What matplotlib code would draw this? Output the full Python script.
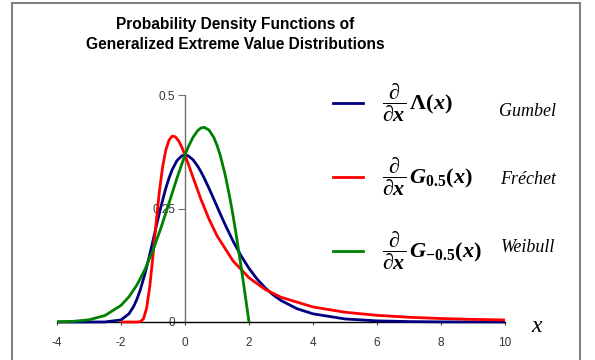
import matplotlib
matplotlib.use("Agg")
import matplotlib.pyplot as plt
from matplotlib.lines import Line2D

# ---- data ----
gumbel_x = [-4, -3, -2.5, -2, -1.75, -1.6, -1.5, -1.4, -1.25, -1.1, -1, -0.9, -0.75, -0.6, -0.5, -0.4,
            -0.25, -0.1, 0, 0.1, 0.25, 0.4, 0.5, 0.6, 0.75, 0.9, 1, 1.1, 1.25, 1.5, 1.75, 2, 2.25,
            2.5, 2.75, 3, 3.5, 4, 5, 6, 7, 8, 10]
gumbel_y = [0, 0, 0.0001, 0.0046, 0.0182, 0.0350, 0.0507, 0.0703, 0.1065, 0.1490, 0.1794, 0.2102,
            0.2549, 0.2946, 0.3170, 0.3356, 0.3556, 0.3660, 0.3679, 0.3661, 0.3574, 0.3429, 0.3307,
            0.3170, 0.2945, 0.2707, 0.2546, 0.2386, 0.2151, 0.1785, 0.1460, 0.1182, 0.0948,
            0.0756, 0.0600, 0.0474, 0.0293, 0.0180, 0.0067, 0.0025, 0.0009, 0.0003, 0.0000]

frechet_x = [-2, -1.5, -1.4, -1.3, -1.2, -1.1, -1, -0.9, -0.8, -0.7, -0.6, -0.5, -0.4, -0.3, -0.2,
             -0.1, 0, 0.1, 0.25, 0.5, 0.75, 1, 1.5, 2, 2.5, 3, 4, 5, 6, 7, 8, 9, 10]
frechet_y = [0, 0, 0.0006, 0.0067, 0.0302, 0.0787, 0.1465, 0.2204, 0.2880, 0.3415, 0.3787, 0.4005,
             0.4094, 0.4080, 0.3992, 0.3851, 0.3679, 0.3487, 0.3187, 0.2700, 0.2267, 0.1900, 0.1346,
             0.0974, 0.0720, 0.0545, 0.0331, 0.0215, 0.0147, 0.0104, 0.0077, 0.0058, 0.0045]

weibull_x = [-4, -3.5, -3, -2.5, -2, -1.75, -1.5, -1.25, -1, -0.75, -0.5, -0.25, 0, 0.1, 0.25, 0.4,
             0.5, 0.6, 0.75, 0.9, 1, 1.1, 1.25, 1.4, 1.5, 1.6, 1.75, 1.9, 2]
weibull_y = [0.0004, 0.0014, 0.0048, 0.0143, 0.0366, 0.0557, 0.0818, 0.1159, 0.1581, 0.2076, 0.2620,
             0.3172, 0.3679, 0.3853, 0.4069, 0.4218, 0.4274, 0.4288, 0.4229, 0.4065, 0.3894, 0.3675,
             0.3258, 0.2742, 0.2348, 0.1922, 0.1231, 0.0499, 0]

x_ticks = [-4, -2, 0, 2, 4, 6, 8, 10]
y_ticks = [0, 0.25, 0.5]
y_tick_labels = ["0", "0.25", "0.5"]
title_text = "Probability Density Functions of\nGeneralized Extreme Value Distributions"
series_names = ["Gumbel", "Fréchet", "Weibull"]
series_math = [r"$\dfrac{\partial}{\partial x}\,\Lambda(x)$",
               r"$\dfrac{\partial}{\partial x}\,G_{0.5}(x)$",
               r"$\dfrac{\partial}{\partial x}\,G_{-0.5}(x)$"]
colors = ["#000080", "#ff0000", "#008000"]

plt.rcParams["font.family"] = ["Liberation Sans", "DejaVu Sans"]
plt.rcParams["mathtext.fontset"] = "custom"
plt.rcParams["mathtext.rm"] = "Liberation Serif:bold"
plt.rcParams["mathtext.it"] = "Liberation Serif:bold:italic"
plt.rcParams["mathtext.bf"] = "Liberation Serif:bold"

W, H = 595, 360
fig = plt.figure(figsize=(W / 100, H / 100), dpi=100)

# axes placement (pixels): x=-4 at 57, x=10 at 505; y=0 at 322, y=0.5 at 95
x0, x1 = 57, 505
y0, y1 = 322, 95
ax = fig.add_axes([x0 / W, 1 - y0 / H, (x1 - x0) / W, (y0 - y1) / H])
ax.set_xlim(-4, 10)
ax.set_ylim(0, 0.5)
ax.patch.set_alpha(0)

lw = 2.0
ax.plot(gumbel_x, gumbel_y, color=colors[0], lw=lw, solid_capstyle="butt", solid_joinstyle="round",
        zorder=3, clip_on=False)
ax.plot(frechet_x, frechet_y, color=colors[1], lw=lw, solid_capstyle="butt", solid_joinstyle="round",
        zorder=4, clip_on=False)
ax.plot(weibull_x, weibull_y, color=colors[2], lw=lw, solid_capstyle="butt", solid_joinstyle="round",
        zorder=5, clip_on=False)

for s in ["top", "right"]:
    ax.spines[s].set_visible(False)
ax.spines["left"].set_position(("data", 0))
ax.spines["left"].set_color("#707070")
ax.spines["left"].set_linewidth(1.0)
ax.spines["bottom"].set_color("black")
ax.spines["bottom"].set_linewidth(1.0)

ax.set_xticks(x_ticks)
ax.set_xticklabels([str(t) for t in x_ticks])
ax.set_yticks(y_ticks)
ax.set_yticklabels(y_tick_labels)
ax.tick_params(axis="x", direction="out", length=2, width=0.8, colors="#404040",
               labelsize=8.5, pad=9, labelcolor="#333333")
ax.tick_params(axis="y", direction="out", length=5, width=0.8, colors="#707070",
               labelsize=8.5, pad=2, labelcolor="#333333")

# title
fig.text(235 / W, 1 - 34.5 / H, title_text, ha="center", va="center",
         fontsize=11.2, fontweight="bold", linespacing=1.42, color="black")

# legend drawn manually
leg_y = [103, 177, 251]
name_y = [111, 179, 247]
for i in range(3):
    fig.add_artist(Line2D([333 / W, 363 / W], [1 - leg_y[i] / H] * 2, color=colors[i], lw=lw,
                          transform=fig.transFigure))
    fig.text(382 / W, 1 - leg_y[i] / H, series_math[i], ha="left", va="center", fontsize=16)
    fig.text(528 / W, 1 - name_y[i] / H, series_names[i], ha="center", va="center",
             fontsize=13, style="italic", family="Liberation Serif")

# axis label x
fig.text(537 / W, 1 - 326 / H, "x", ha="center", va="center", fontsize=17, style="italic",
         family="Liberation Serif")

# frame
fc = "#808080"
fig.add_artist(Line2D([12 / W, 12 / W], [0, 1 - 3 / H], color=fc, lw=1.5, transform=fig.transFigure))
fig.add_artist(Line2D([12 / W, 580 / W], [1 - 3 / H, 1 - 3 / H], color=fc, lw=1.5, transform=fig.transFigure))
fig.add_artist(Line2D([580 / W, 580 / W], [0, 1 - 3 / H], color=fc, lw=1.5, transform=fig.transFigure))

fig.savefig("out.png", dpi=100)
